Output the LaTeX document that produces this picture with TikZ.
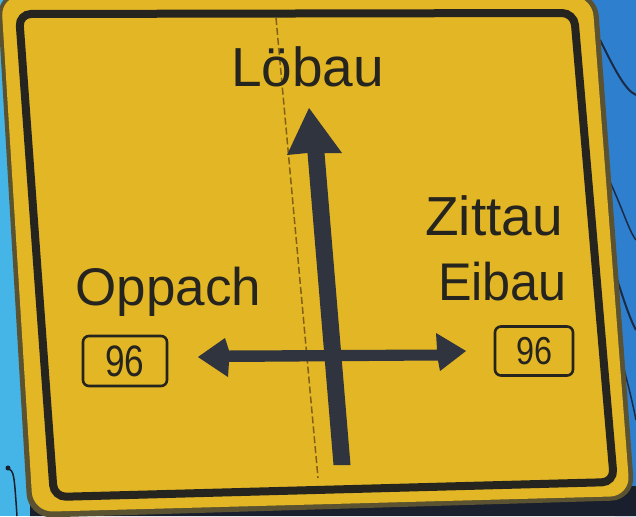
\documentclass[tikz,border=0pt]{standalone}
\usepackage{fontspec}
\setmainfont{Liberation Sans}
\definecolor{skyblue}{HTML}{45B4E6}
\definecolor{treeblue}{HTML}{2F7FCF}
\definecolor{branch}{HTML}{1C2A44}
\definecolor{ground}{HTML}{1A1F2E}
\definecolor{rimdark}{HTML}{5A5230}
\definecolor{signyellow}{HTML}{E3B625}
\definecolor{signink}{HTML}{25241F}
\definecolor{arrowink}{HTML}{2F343E}
\definecolor{foldline}{HTML}{6A4A10}
\usepackage{tikz}
\usetikzlibrary{positioning}

\begin{document}
\begin{tikzpicture}[x=1pt, y=-1pt,
        place/.style={text=signink, inner sep=0pt,
                      font=\fontsize{55}{60}\selectfont},
        route/.style={draw=signink, line width=2.6pt, rounded corners=6pt,
                      text=signink, inner sep=0pt}
      ]
        \useasboundingbox (0,0) rectangle (636,516);
        \clip (0,0) rectangle (636,516);
        % Background (sky, trees, ground)
        \fill[skyblue] (0,0) rectangle (636,516);
        \fill[treeblue] (588,0) -- (636,0) -- (636,516) -- (615,516) -- cycle;
        \draw[branch, line width=2pt] (600,40) .. controls (615,70) and (625,90) .. (636,95);
        \draw[branch, line width=1.5pt] (604,170) .. controls (620,200) and (628,230) .. (636,240);
        \draw[branch, line width=2pt] (608,250) .. controls (620,290) and (630,320) .. (636,330);
        \draw[branch, line width=1.5pt] (612,330) .. controls (622,360) and (630,390) .. (636,420);
        \fill[ground] (30,505) -- (636,486) -- (636,516) -- (30,516) -- cycle;
        \draw[ground, line width=1.5pt] (8,468) .. controls (14,472) .. (17,516);
        \fill[ground] (8,468) circle (2.5);
        % Sign plate
        \fill[rimdark, rounded corners=24pt] (-3,-8) -- (597,-8) -- (635,500) -- (28,518) -- cycle;
        \fill[signyellow, rounded corners=20pt] (1,-4) -- (592,-4) -- (630,496) -- (33,512) -- cycle;
        \draw[signink, line width=8pt, rounded corners=12pt, fill=signyellow]
          (19,14) -- (574,13) -- (614,482) -- (54,497) -- cycle;
        % Fold line
        \draw[foldline, opacity=0.8, line width=1.5pt, dash pattern=on 7pt off 3pt]
          (276,18) -- (318,478);
        % Arrows
        \fill[arrowink] (309,108) -- (342,153) -- (324.5,153) -- (350.5,465)
          -- (333.5,465) -- (307.5,153) -- (287,155) -- cycle;
        \fill[arrowink] (198,357) -- (225,338) -- (229,350.5) -- (437,349.5)
          -- (436,333) -- (466,351) -- (440,371) -- (438,360.5)
          -- (229,362) -- (228,377) -- cycle;
        % Destinations
        \node[place, anchor=base] (loebau) at (307.5,87) {Löbau};
        \node[place, anchor=base] (oppach) at (168.5,305) {\fontsize{53}{58}\selectfont Oppach};
        \node[place, anchor=base] (zittau) at (494,235) {Zittau};
        \node[place, anchor=base] (eibau) at (502.5,300) {\fontsize{53}{58}\selectfont\scalebox{0.95}[1]{Eibau}};
        % Route numbers
        \node[route, minimum width=84pt, minimum height=50pt] (routeL) at (125,361)
          {\fontsize{44}{48}\selectfont\scalebox{0.8}[1]{96}};
        \node[route, minimum width=78pt, minimum height=49pt] (routeR) at (534,351)
          {\fontsize{39}{42}\selectfont\scalebox{0.83}[1]{96}};
      \end{tikzpicture}
\end{document}
